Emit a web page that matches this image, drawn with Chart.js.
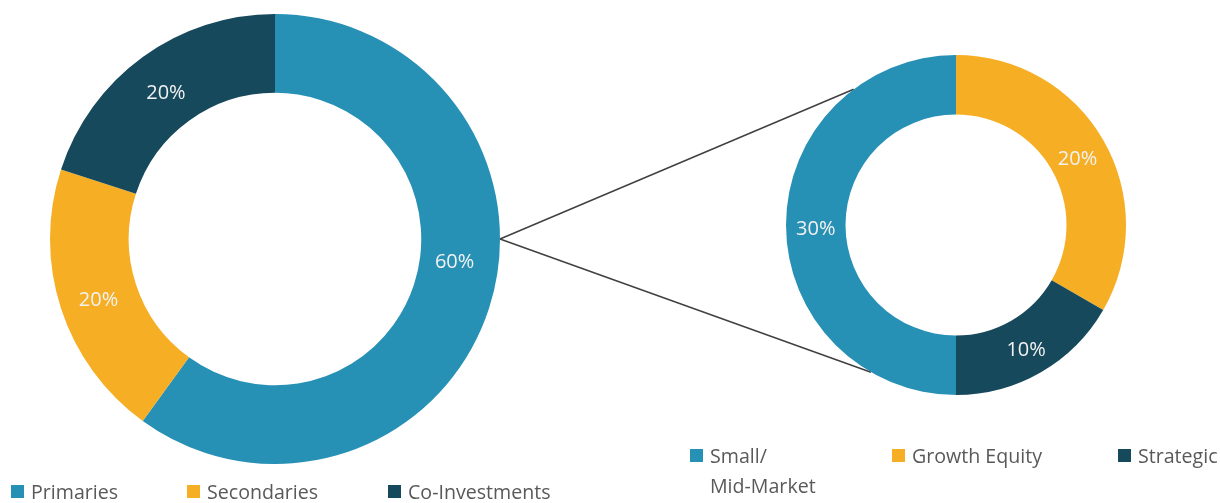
<!DOCTYPE html>
<html>
<head>
<meta charset="utf-8">
<script src="https://cdn.jsdelivr.net/npm/chart.js@4.4.1/dist/chart.umd.min.js"></script>
<style>
  body { margin: 0; background: #fff; font-family: "Open Sans", Lato, sans-serif; }
  #page { position: relative; width: 1220px; height: 503px; overflow: hidden; }
  canvas { position: absolute; }
  #lines { left: 0; top: 0; z-index: 0; }
  #mainWrap { position: absolute; left: 50px; top: 14px; width: 450px; height: 450px; z-index: 1; }
  #subWrap { position: absolute; left: 786px; top: 55px; width: 340px; height: 340px; z-index: 1; }
  .legend { position: absolute; font-size: 19.6px; color: #595959; line-height: 30px; white-space: nowrap; }
  .legend i { position: absolute; width: 13px; height: 13px; left: -20px; top: 8px; }
</style>
</head>
<body>
<div id="page">
  <canvas id="lines" width="1220" height="503"></canvas>
  <div id="mainWrap"><canvas id="mainChart"></canvas></div>
  <div id="subWrap"><canvas id="subChart"></canvas></div>
  <div id="mainLegend"></div>
  <div id="subLegend"></div>
</div>
<script>
// Data
const mainLabels = ["Primaries", "Secondaries", "Co-Investments"];
const mainValues = [60, 20, 20];
const subLabels = ["Small/\nMid-Market", "Growth Equity", "Strategic"];
const subValues = [30, 20, 10];

const blue = "#2790B5";
const orange = "#F6AE24";
const navy = "#17495C";
const mainColors = [blue, orange, navy];
const subColors = [blue, orange, navy];

// White percentage labels inside the ring
const pctLabels = {
    id: "pctLabels",
    afterDatasetsDraw(chart, args, opts) {
        const ctx = chart.ctx;
        const meta = chart.getDatasetMeta(0);
        const values = chart.data.datasets[0].data;
        ctx.save();
        ctx.fillStyle = "#F2F2F2";
        ctx.font = "20px 'Open Sans', Lato, sans-serif";
        ctx.textAlign = "center";
        ctx.textBaseline = "alphabetic";
        meta.data.forEach((arc, i) => {
            const o = (opts.overrides || {})[i] || {};
            let angle = (arc.startAngle + arc.endAngle) / 2;
            if (o.angle !== undefined) angle = (o.angle - 90) * Math.PI / 180;
            const r = (arc.innerRadius + arc.outerRadius) / 2 + (o.shift || 0);
            ctx.fillText(values[i] + "%", arc.x + Math.cos(angle) * r, arc.y + Math.sin(angle) * r + 10);
        });
        ctx.restore();
    }
};

function ringOptions(rotation, overrides) {
    return {
        responsive: true,
        maintainAspectRatio: false,
        animation: false,
        cutout: "65%",
        rotation: rotation,
        layout: { padding: 0 },
        plugins: {
            legend: { display: false },
            tooltip: { enabled: false },
            pctLabels: { overrides: overrides }
        }
    };
}

const mainChart = new Chart(document.getElementById("mainChart"), {
    type: "doughnut",
    data: {
        labels: mainLabels,
        datasets: [{ data: mainValues, backgroundColor: mainColors, borderWidth: 0 }]
    },
    options: ringOptions(0, { 0: { angle: 96, shift: -5 } }),
    plugins: [pctLabels]
});

const subChart = new Chart(document.getElementById("subChart"), {
    type: "doughnut",
    data: {
        labels: subLabels,
        datasets: [{ data: subValues, backgroundColor: subColors, borderWidth: 0 }]
    },
    options: ringOptions(180, {}),
    plugins: [pctLabels]
});

// Connector lines from the main ring to the sub ring
function drawConnectors() {
    const a = mainChart.getDatasetMeta(0).data[0];
    const b = subChart.getDatasetMeta(0).data[0];
    const mw = document.getElementById("mainWrap");
    const sw = document.getElementById("subWrap");
    const sx = mw.offsetLeft + a.x + a.outerRadius;
    const sy = mw.offsetTop + a.y;
    const cx = sw.offsetLeft + b.x;
    const cy = sw.offsetTop + b.y;
    const ctx = document.getElementById("lines").getContext("2d");
    ctx.strokeStyle = "#404040";
    ctx.lineWidth = 1.5;
    [323, 210].forEach(deg => {
        const t = (deg - 90) * Math.PI / 180;
        ctx.beginPath();
        ctx.moveTo(sx, sy);
        ctx.lineTo(cx + Math.cos(t) * b.outerRadius, cy + Math.sin(t) * b.outerRadius);
        ctx.stroke();
    });
}
drawConnectors();

// Legends
function buildLegend(id, labels, colors, xs, top) {
    const box = document.getElementById(id);
    labels.forEach((label, i) => {
        const d = document.createElement("div");
        d.className = "legend";
        d.style.left = xs[i] + "px";
        d.style.top = top + "px";
        d.innerHTML = '<i style="background:' + colors[i] + '"></i>' + label.replace("\n", "<br>");
        box.appendChild(d);
    });
}
buildLegend("mainLegend", mainLabels, mainColors, [31, 207, 408], 477);
buildLegend("subLegend", subLabels, subColors, [710, 912, 1138], 441);
</script>
</body>
</html>
